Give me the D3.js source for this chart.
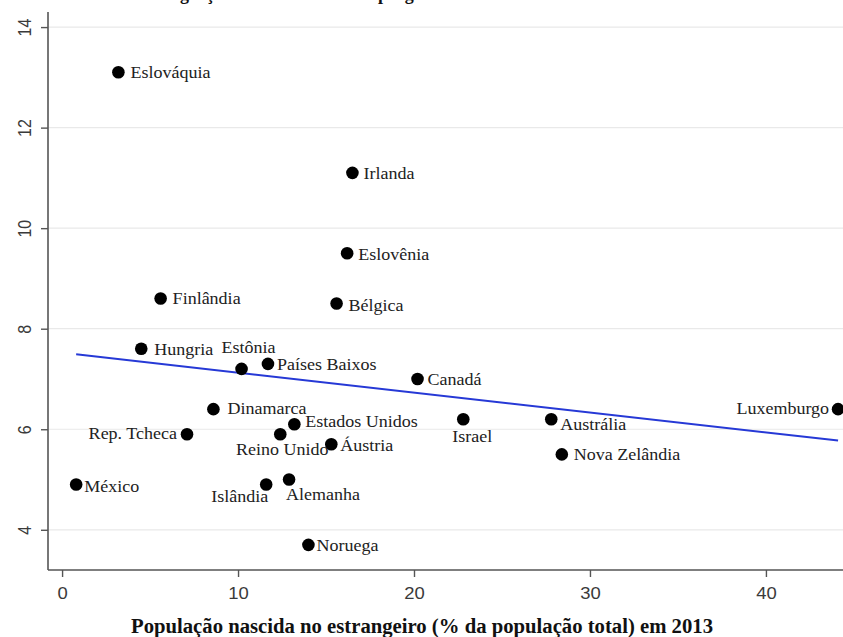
<!DOCTYPE html>
<html>
<head>
<meta charset="utf-8">
<script src="https://cdn.jsdelivr.net/npm/d3@7"></script>
<style>
  html, body { margin: 0; padding: 0; background: #fff; }
  svg { display: block; }
</style>
</head>
<body>
<svg id="chart" width="843" height="637"></svg>
<script>
// Countries, foreign-born share of population (%) in 2013, and outcome variable
const countries = ["Eslováquia", "Irlanda", "Eslovênia", "Finlândia", "Bélgica", "Hungria",
  "Estônia", "Países Baixos", "Canadá", "Dinamarca", "Estados Unidos", "Rep. Tcheca",
  "Reino Unido", "Áustria", "Israel", "Austrália", "Luxemburgo", "Nova Zelândia",
  "México", "Islândia", "Alemanha", "Noruega"];
const foreignBorn = [3.2, 16.5, 16.2, 5.6, 15.6, 4.5, 10.2, 11.7, 20.2, 8.6, 13.2, 7.1,
  12.4, 15.3, 22.8, 27.8, 44.1, 28.4, 0.8, 11.6, 12.9, 14.0];
const outcome = [13.1, 11.1, 9.5, 8.6, 8.5, 7.6, 7.2, 7.3, 7.0, 6.4, 6.1, 5.9,
  5.9, 5.7, 6.2, 6.2, 6.4, 5.5, 4.9, 4.9, 5.0, 3.7];
const xTicks = [0, 10, 20, 30, 40];
const yTicks = [4, 6, 8, 10, 12, 14];
const xTitle = "População nascida no estrangeiro (% da população total) em 2013";
const chartTitle = "Imigração e desembolso com programas sociais";

// Label placement around each marker: [dx, dy, anchor]
const labelPlacement = {
  "Eslováquia": [12, 0, "start"], "Irlanda": [11, 0, "start"], "Eslovênia": [11, 1, "start"],
  "Finlândia": [12, 0, "start"], "Bélgica": [12, 1, "start"], "Hungria": [13, 0, "start"],
  "Estônia": [-20, -22, "start"], "Países Baixos": [9, 0, "start"], "Canadá": [10, 0, "start"],
  "Dinamarca": [14, -1, "start"], "Estados Unidos": [11, -3, "start"], "Rep. Tcheca": [-10, -1, "end"],
  "Reino Unido": [2, 15, "middle"], "Áustria": [9, 1, "start"], "Israel": [-11, 17, "start"],
  "Austrália": [9, 5, "start"], "Luxemburgo": [-9, -1, "end"], "Nova Zelândia": [12, 0, "start"],
  "México": [8, 2, "start"], "Islândia": [2, 12, "end"], "Alemanha": [-3, 15, "start"],
  "Noruega": [8, 0, "start"]
};

const svg = d3.select("#chart");
const x = d3.scaleLinear().domain([-0.8, 44.38]).range([48, 843]);
const y = d3.scaleLinear().domain([3.2, 14.3]).range([570, 12]);

// Partially visible heading above the plot
svg.append("text")
  .attr("x", 153).attr("y", -0.5)
  .attr("font-family", "Liberation Serif, serif").attr("font-weight", "bold")
  .attr("font-size", 18).attr("fill", "#111")
  .text(chartTitle);

// Horizontal gridlines
svg.append("g").selectAll("line").data(yTicks).join("line")
  .attr("x1", 48).attr("x2", 843)
  .attr("y1", d => y(d)).attr("y2", d => y(d))
  .attr("stroke", "#e9e9e9").attr("stroke-width", 1.2);

// Y axis
const yAxis = svg.append("g").attr("transform", "translate(48,0)")
  .call(d3.axisLeft(y).tickValues(yTicks).tickSize(7).tickPadding(8));
yAxis.select(".domain").attr("stroke", "#555").attr("stroke-width", 1.6)
  .attr("d", `M0,${y(14.3)}V${y(3.2)}`);
yAxis.selectAll(".tick line").attr("stroke", "#555").attr("stroke-width", 1.4);
yAxis.selectAll(".tick text")
  .attr("font-family", "Liberation Sans, Arial, sans-serif").attr("font-size", 16).attr("fill", "#3a3a3a")
  .attr("transform", "scale(1.15,1) rotate(-90)").attr("x", 0).attr("y", -20)
  .attr("dy", "0.35em").attr("text-anchor", "middle");

// X axis
const xAxis = svg.append("g").attr("transform", "translate(0,570)")
  .call(d3.axisBottom(x).tickValues(xTicks).tickSize(7).tickPadding(10));
xAxis.select(".domain").attr("stroke", "#555").attr("stroke-width", 1.6)
  .attr("d", "M48,0H843");
xAxis.selectAll(".tick line").attr("stroke", "#555").attr("stroke-width", 1.4);
xAxis.selectAll(".tick text")
  .attr("font-family", "Liberation Sans, Arial, sans-serif").attr("font-size", 16.5).attr("fill", "#3a3a3a")
  .attr("transform", "scale(1.12,1)");

// X axis title
svg.append("text")
  .attr("x", 131).attr("y", 633)
  .attr("font-family", "Liberation Serif, serif").attr("font-weight", "bold")
  .attr("font-size", 20).attr("fill", "#111")
  .attr("textLength", 582).attr("lengthAdjust", "spacingAndGlyphs")
  .text(xTitle);

// Least-squares fit line over the observed x range
const pts = countries.map((c, i) => ({ name: c, fx: foreignBorn[i], fy: outcome[i] }));
const mx = d3.mean(foreignBorn), my = d3.mean(outcome);
const slope = d3.sum(pts, p => (p.fx - mx) * (p.fy - my)) / d3.sum(pts, p => (p.fx - mx) ** 2);
const intercept = my - slope * mx;
const [xmin, xmax] = d3.extent(foreignBorn);
svg.append("path")
  .datum([xmin, xmax])
  .attr("d", d3.line().x(d => x(d)).y(d => y(intercept + slope * d)))
  .attr("stroke", "#2639d6").attr("stroke-width", 2).attr("fill", "none");

// Markers
svg.append("g").selectAll("circle").data(pts).join("circle")
  .attr("cx", d => x(d.fx)).attr("cy", d => y(d.fy)).attr("r", 6.3)
  .attr("fill", "#000");

// Country labels
svg.append("g").selectAll("g").data(pts).join("g")
  .attr("transform", d => {
    const p = labelPlacement[d.name];
    return `translate(${x(d.fx) + p[0]},${y(d.fy) + p[1]})`;
  })
  .append("text")
  .attr("transform", "scale(1.06,1)")
  .attr("dy", "0.35em")
  .attr("text-anchor", d => labelPlacement[d.name][2])
  .attr("font-family", "Liberation Serif, serif").attr("font-size", 17).attr("fill", "#222")
  .text(d => d.name);
</script>
</body>
</html>
